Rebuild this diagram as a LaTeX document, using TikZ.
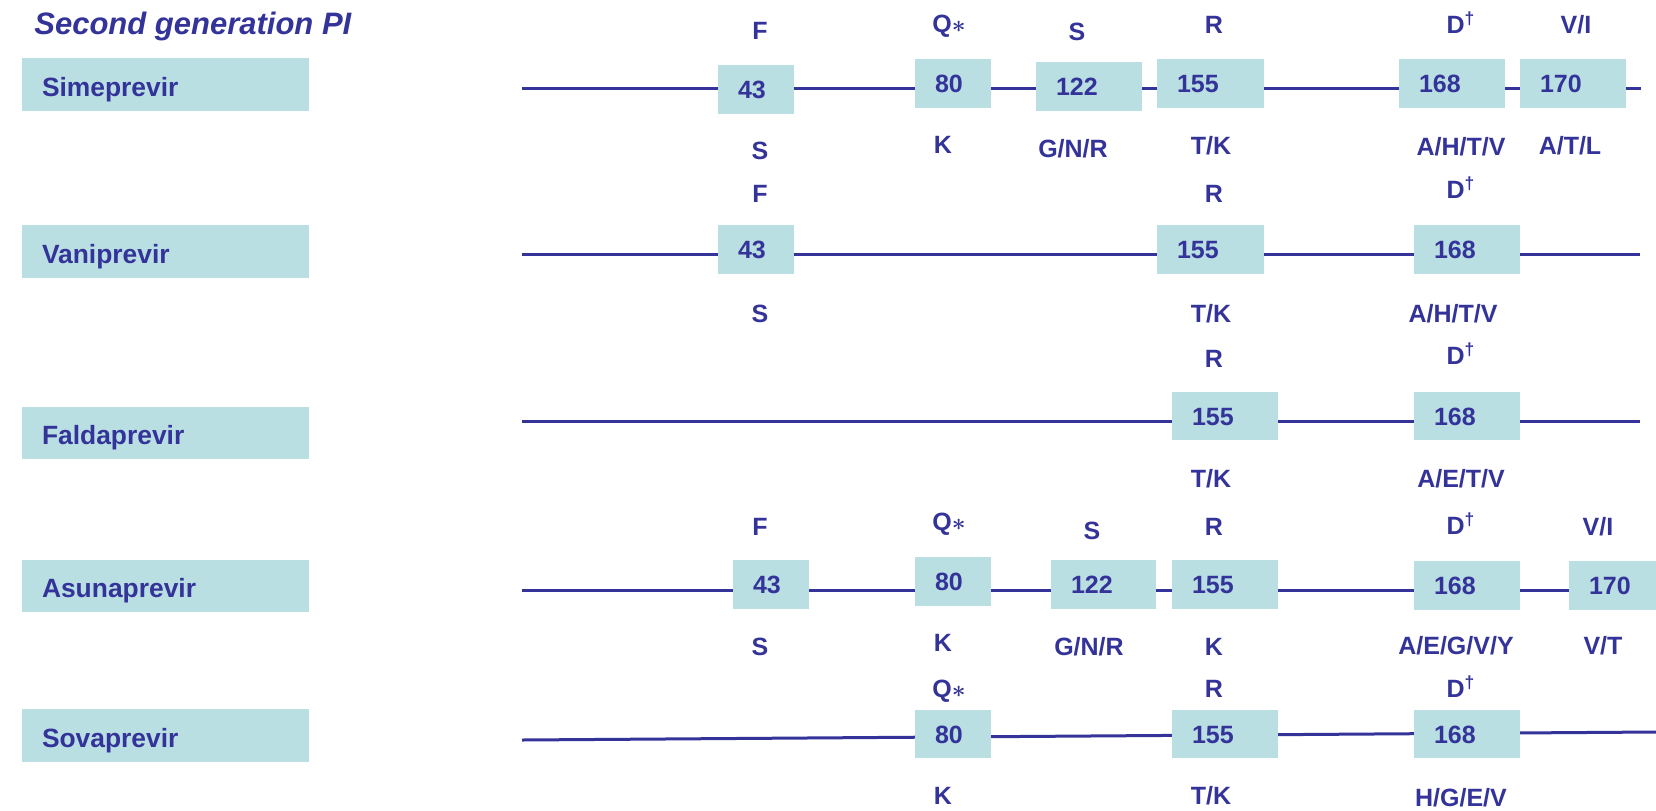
\documentclass[tikz,border=0pt]{standalone}
\usepackage{fontspec}
\setmainfont{Liberation Sans}
\usetikzlibrary{fit}
\definecolor{boxfill}{RGB}{185,223,226}
\definecolor{ink}{RGB}{51,51,153}
\tikzset{
  pb/.style={fill=boxfill, draw=none, inner sep=0pt},
  num/.style={text=ink, inner sep=0pt, font=\fontsize{12.5}{15}\selectfont\bfseries, text height=9pt, text depth=0pt},
  namet/.style={text=ink, inner sep=0pt, font=\fontsize{13.2}{16}\selectfont\bfseries, text height=9.5pt, text depth=0pt},
  lab/.style={text=ink, inner sep=0pt, font=\fontsize{12.5}{15}\selectfont\bfseries, text height=9pt, text depth=0pt},
  ln/.style={draw=ink, line width=1.5pt},
  ttl/.style={text=ink, inner sep=0pt, font=\fontsize{15.5}{18}\selectfont\bfseries\itshape}
}
\newcommand\posbox[6]{%
  \node[pb, fit={(#2,#3) (#4,#5)}] (#1) {};
  \node[num, anchor=west] (#1t) at ([xshift=10pt]#1.west) {#6};}
\newcommand\namebox[6]{%
  \node[pb, fit={(#2,#3) (#4,#5)}] (#1) {};
  \node[namet, anchor=west] (#1t) at ([xshift=10pt,yshift=-1.2pt]#1.west) {#6};}
\newcommand\mlab[4]{\node[lab] (#1) at (#2,#3) {#4};}
\newcommand\Qs{Q{\boldmath$\ast$}}
\newcommand\Dd{D\textsuperscript{†}}
\begin{document}
\begin{tikzpicture}[x=0.5pt,y=-0.5pt]
\useasboundingbox (0,0) rectangle (1656,810);
\node[ttl, anchor=base west] (title) at (34,34) {Second generation PI};

% ---------- Row 1 : Simeprevir
\coordinate (a1) at (522,88.5);
\coordinate (a2) at (1641,88.5);
\draw[ln] (a1) -- (a2);
\namebox{sime}{22}{58}{309}{111}{Simeprevir}
\posbox{ra43}{718}{65}{794}{114}{43}
\posbox{ra80}{915}{59}{991}{108}{80}
\posbox{raa}{1036}{62}{1142}{111}{122}
\posbox{rab}{1157}{59}{1264}{108}{155}
\posbox{rac}{1399}{59}{1505}{108}{168}
\posbox{rad}{1520}{59}{1626}{108}{170}
\mlab{ua1}{760}{30}{F}
\mlab{ua2}{949}{23}{\Qs}
\mlab{ua3}{1077}{31}{S}
\mlab{ua4}{1214}{24.5}{R}
\mlab{ua5}{1461}{24.5}{\Dd}
\mlab{ua6}{1576}{24.5}{V/I}
\mlab{da1}{760}{150}{S}
\mlab{da2}{943}{144.5}{K}
\mlab{da3}{1073}{148}{G/N/R}
\mlab{da4}{1211}{145}{T/K}
\mlab{da5}{1461}{146.5}{A/H/T/V}
\mlab{da6}{1570}{145}{A/T/L}

% ---------- Row 2 : Vaniprevir
\coordinate (b1) at (522,254.5);
\coordinate (b2) at (1640,254.5);
\draw[ln] (b1) -- (b2);
\namebox{vani}{22}{225}{309}{278}{Vaniprevir}
\posbox{rb43}{718}{225}{794}{274}{43}
\posbox{rbb}{1157}{225}{1264}{274}{155}
\posbox{rbc}{1414}{225}{1520}{274}{168}
\mlab{ub1}{760}{193}{F}
\mlab{ub2}{1214}{193}{R}
\mlab{ub3}{1461}{189}{\Dd}
\mlab{db1}{760}{313}{S}
\mlab{db2}{1211}{313}{T/K}
\mlab{db3}{1453}{313}{A/H/T/V}

% ---------- Row 3 : Faldaprevir
\coordinate (c1) at (522,421);
\coordinate (c2) at (1640,421);
\draw[ln] (c1) -- (c2);
\namebox{fald}{22}{407}{309}{459}{Faldaprevir}
\posbox{rcb}{1172}{392}{1278}{440}{155}
\posbox{rcc}{1414}{392}{1520}{440}{168}
\mlab{uc1}{1214}{358}{R}
\mlab{uc2}{1461}{355}{\Dd}
\mlab{dc1}{1211}{478}{T/K}
\mlab{dc2}{1461}{478}{A/E/T/V}

% ---------- Row 4 : Asunaprevir
\coordinate (d1) at (522,590);
\coordinate (d2) at (1656,590);
\draw[ln] (d1) -- (d2);
\namebox{asun}{22}{560}{309}{612}{Asunaprevir}
\posbox{rd43}{733}{560}{809}{609}{43}
\posbox{rd80}{915}{557}{991}{606}{80}
\posbox{rda}{1051}{560}{1156}{609}{122}
\posbox{rdb}{1172}{560}{1278}{609}{155}
\posbox{rdc}{1414}{561}{1520}{610}{168}
\posbox{rdd}{1569}{561}{1656}{610}{170}
\mlab{ud1}{760}{526}{F}
\mlab{ud2}{949}{521}{\Qs}
\mlab{ud3}{1092}{530}{S}
\mlab{ud4}{1214}{526}{R}
\mlab{ud5}{1461}{525}{\Dd}
\mlab{ud6}{1598}{526}{V/I}
\mlab{dd1}{760}{646}{S}
\mlab{dd2}{943}{642}{K}
\mlab{dd3}{1089}{646}{G/N/R}
\mlab{dd4}{1214}{646}{K}
\mlab{dd5}{1456}{645}{A/E/G/V/Y}
\mlab{dd6}{1603}{645}{V/T}

% ---------- Row 5 : Sovaprevir
\coordinate (e1) at (522,740);
\coordinate (e2) at (1656,732);
\draw[ln] (e1) -- (e2);
\namebox{sova}{22}{709}{309}{762}{Sovaprevir}
\posbox{re80}{915}{710}{991}{758}{80}
\posbox{reb}{1172}{710}{1278}{758}{155}
\posbox{rec}{1414}{710}{1520}{758}{168}
\mlab{ue1}{949}{688}{\Qs}
\mlab{ue2}{1214}{688}{R}
\mlab{ue3}{1461}{688}{\Dd}
\mlab{de1}{943}{795}{K}
\mlab{de2}{1211}{795}{T/K}
\mlab{de3}{1461}{797}{H/G/E/V}
\end{tikzpicture}
\end{document}
